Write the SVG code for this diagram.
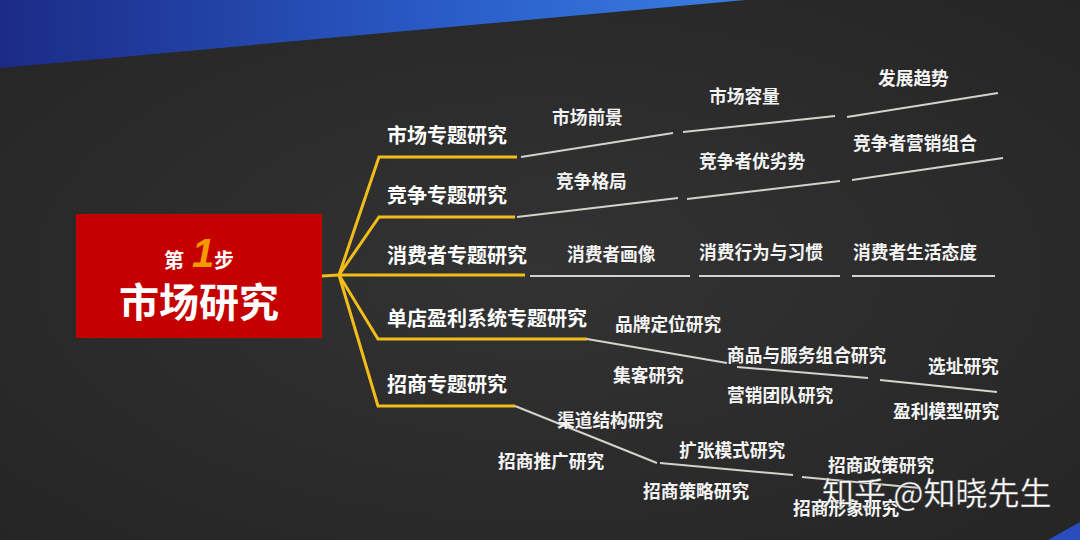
<svg xmlns="http://www.w3.org/2000/svg" width="1080" height="540" viewBox="0 0 1080 540">
<defs>
<radialGradient id="bg" cx="0.5" cy="0.5" r="0.75">
<stop offset="0" stop-color="#333333"/>
<stop offset="1" stop-color="#242424"/>
</radialGradient>
<linearGradient id="blue" x1="0" y1="0" x2="1" y2="0">
<stop offset="0" stop-color="#1b2a86"/>
<stop offset="0.6" stop-color="#2a5cc8"/>
<stop offset="1" stop-color="#3a7ee2"/>
</linearGradient>
<style>
.y{fill:none;stroke:#f2bd1a;stroke-width:3;stroke-linejoin:miter}
.g{fill:none;stroke:#d4d2cc;stroke-width:2}
.m{font-family:"Noto Sans CJK SC","Noto Sans",sans-serif;font-weight:bold;font-size:20px;fill:#ffffff}
.s{font-family:"Noto Sans CJK SC","Noto Sans",sans-serif;font-weight:bold;font-size:17.7px;fill:#f4f4f4}
</style>
</defs>
<rect width="1080" height="540" fill="url(#bg)"/>
<polygon points="0,0 745,0 0,68" fill="url(#blue)"/>
<polygon points="1048,540 1080,522 1080,540" fill="#2a4cc0"/>

<g id="root">
<rect x="76" y="214" width="246" height="124" fill="#c40000"/>
<text x="164" y="268" font-family="Noto Sans CJK SC,sans-serif" font-weight="bold" font-size="20" fill="#ffffff">第</text>
<text x="192" y="267" font-family="Liberation Sans,Arial,sans-serif" font-weight="bold" font-style="italic" font-size="40" fill="#f39a00">1</text>
<text x="214" y="268" font-family="Noto Sans CJK SC,sans-serif" font-weight="bold" font-size="20" fill="#ffffff">步</text>
<text x="199" y="317" text-anchor="middle" font-family="Noto Sans CJK SC,sans-serif" font-weight="bold" font-size="40" fill="#ffffff">市场研究</text>
</g>

<g id="connectors">
<polyline class="y" points="322,276 339,275 525,275"/>
<polyline class="y" points="339,275 379,157 517,157"/>
<polyline class="y" points="339,275 379,217 515,217"/>
<polyline class="y" points="339,275 378,339 587,339"/>
<polyline class="y" points="339,275 378,406 515,406"/>
<line class="g" x1="521" y1="157" x2="673" y2="133"/>
<line class="g" x1="683" y1="132" x2="835" y2="116"/>
<line class="g" x1="847" y1="117" x2="998" y2="93"/>
<line class="g" x1="517" y1="217" x2="678" y2="198"/>
<line class="g" x1="687" y1="199" x2="840" y2="181"/>
<line class="g" x1="852" y1="180" x2="1003" y2="158"/>
<line class="g" x1="530" y1="276" x2="690" y2="276"/>
<line class="g" x1="699" y1="276" x2="840" y2="276"/>
<line class="g" x1="852" y1="276" x2="995" y2="276"/>
<line class="g" x1="587" y1="339" x2="727" y2="363"/>
<line class="g" x1="737" y1="367" x2="868" y2="378"/>
<line class="g" x1="880" y1="380" x2="997" y2="392"/>
<line class="g" x1="515" y1="406" x2="657" y2="463"/>
<line class="g" x1="660" y1="463" x2="793" y2="475"/>
<line class="g" x1="802" y1="477" x2="920" y2="488"/>
</g>

<g id="n-market"><text class="m" x="387" y="143">市场专题研究</text></g>
<g id="n-compete"><text class="m" x="387" y="203">竞争专题研究</text></g>
<g id="n-consumer"><text class="m" x="387" y="263">消费者专题研究</text></g>
<g id="n-store"><text class="m" x="387" y="326">单店盈利系统专题研究</text></g>
<g id="n-invest"><text class="m" x="387" y="392">招商专题研究</text></g>

<g id="n-m1"><text class="s" x="552" y="124">市场前景</text></g>
<g id="n-m2"><text class="s" x="709" y="103">市场容量</text></g>
<g id="n-m3"><text class="s" x="878" y="85">发展趋势</text></g>

<g id="n-c1"><text class="s" x="556" y="188">竞争格局</text></g>
<g id="n-c2"><text class="s" x="699" y="168">竞争者优劣势</text></g>
<g id="n-c3"><text class="s" x="853" y="150">竞争者营销组合</text></g>

<g id="n-u1"><text class="s" x="567" y="261">消费者画像</text></g>
<g id="n-u2"><text class="s" x="699" y="259">消费行为与习惯</text></g>
<g id="n-u3"><text class="s" x="853" y="259">消费者生活态度</text></g>

<g id="n-s1"><text class="s" x="615" y="331">品牌定位研究</text></g>
<g id="n-s2"><text class="s" x="613" y="382">集客研究</text></g>
<g id="n-s3"><text class="s" x="727" y="362">商品与服务组合研究</text></g>
<g id="n-s4"><text class="s" x="727" y="402">营销团队研究</text></g>
<g id="n-s5"><text class="s" x="928" y="373">选址研究</text></g>
<g id="n-s6"><text class="s" x="893" y="418">盈利模型研究</text></g>

<g id="n-i1"><text class="s" x="557" y="427">渠道结构研究</text></g>
<g id="n-i2"><text class="s" x="498" y="468">招商推广研究</text></g>
<g id="n-i3"><text class="s" x="679" y="457">扩张模式研究</text></g>
<g id="n-i4"><text class="s" x="643" y="498">招商策略研究</text></g>
<g id="n-i5"><text class="s" x="828" y="472">招商政策研究</text></g>
<g id="n-i6"><text class="s" x="793" y="515">招商形象研究</text></g>

<text x="822" y="505" font-family="Noto Sans CJK SC,sans-serif" font-size="32" fill="#ffffff" stroke="#555" stroke-width="0.4">知乎 @知晓先生</text>
</svg>
